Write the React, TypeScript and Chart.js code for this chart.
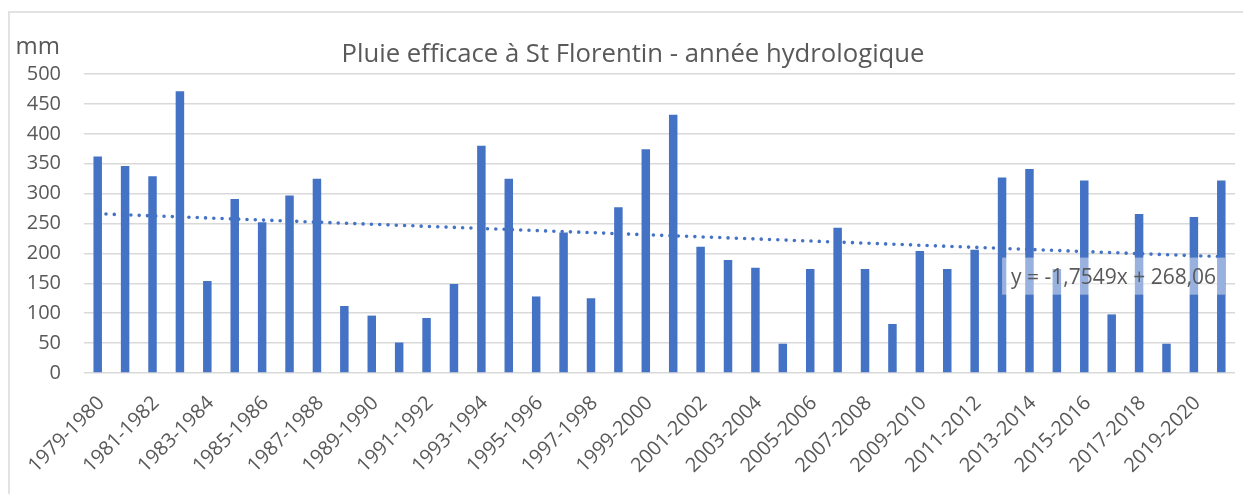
import React, { useEffect, useRef } from "react";
import { Chart, registerables } from "chart.js";

Chart.register(...registerables);

const categories: string[] = [
  "1979-1980", "1980-1981", "1981-1982", "1982-1983", "1983-1984", "1984-1985",
  "1985-1986", "1986-1987", "1987-1988", "1988-1989", "1989-1990", "1990-1991",
  "1991-1992", "1992-1993", "1993-1994", "1994-1995", "1995-1996", "1996-1997",
  "1997-1998", "1998-1999", "1999-2000", "2000-2001", "2001-2002", "2002-2003",
  "2003-2004", "2004-2005", "2005-2006", "2006-2007", "2007-2008", "2008-2009",
  "2009-2010", "2010-2011", "2011-2012", "2012-2013", "2013-2014", "2014-2015",
  "2015-2016", "2016-2017", "2017-2018", "2018-2019", "2019-2020", "2020-2021",
];

const pluieEfficace: number[] = [
  362, 346, 329, 471, 154, 291, 252, 297, 325, 112, 96, 51,
  92, 149, 380, 325, 128, 235, 125, 277, 374, 432, 211, 189,
  176, 49, 174, 243, 174, 82, 204, 174, 206, 327, 341, 174,
  322, 98, 266, 49, 261, 322,
];

const trendSlope = -1.7549;
const trendIntercept = 268.06;
const trendLabel = "y = -1,7549x + 268,06";
const yTicks: number[] = [0, 50, 100, 150, 200, 250, 300, 350, 400, 450, 500];
const title = "Pluie efficace à St Florentin - année hydrologique";
const yUnit = "mm";

const FONT = "'Open Sans', 'Noto Sans', sans-serif";
const TEXT = "#595959";
const BLUE = "#4472C4";

const trendValues = categories.map((_, i) => trendSlope * (i + 1) + trendIntercept);

export default function App() {
  const ref = useRef<HTMLCanvasElement | null>(null);

  useEffect(() => {
    if (!ref.current) return;

    const overlay = {
      id: "overlay",
      afterDraw(chart: any) {
        const ctx = chart.ctx;
        const xs = chart.scales.x;
        const ys = chart.scales.y;
        ctx.save();
        // title
        ctx.fillStyle = TEXT;
        ctx.font = `25.7px ${FONT}`;
        ctx.textAlign = "center";
        ctx.textBaseline = "alphabetic";
        ctx.fillText(title, chart.width / 2 + 11.5, 62);
        // unit
        ctx.font = `24px ${FONT}`;
        ctx.textAlign = "right";
        ctx.fillText(yUnit, 60, 54);
        // x category labels (every other), rotated 45°
        ctx.font = `20px ${FONT}`;
        ctx.textAlign = "right";
        ctx.textBaseline = "middle";
        const labelY = chart.chartArea.bottom + 27;
        categories.forEach((c, i) => {
          if (i % 2 !== 0) return;
          const x = xs.getPixelForValue(i) + 3.5;
          ctx.save();
          ctx.translate(x, labelY);
          ctx.rotate(-Math.PI / 4);
          ctx.fillText(c, 0, 0);
          ctx.restore();
        });
        // trend equation box
        ctx.textBaseline = "alphabetic";
        ctx.font = `21px ${FONT}`;
        const w = ctx.measureText(trendLabel).width;
        const left = xs.getPixelForValue(33);
        const top = ys.getPixelForValue(193);
        const bottom = ys.getPixelForValue(131);
        ctx.fillStyle = "rgba(255,255,255,0.45)";
        ctx.fillRect(left, top, w + 18, bottom - top);
        ctx.fillStyle = TEXT;
        ctx.textAlign = "left";
        ctx.fillText(trendLabel, left + 9, ys.getPixelForValue(150) + 1);
        ctx.restore();
      },
    };

    const chart = new Chart(ref.current, {
      type: "bar",
      data: {
        labels: categories,
        datasets: [
          {
            type: "line",
            label: "Tendance",
            data: trendValues,
            borderColor: BLUE,
            borderWidth: 3.6,
            borderDash: [0, 8.3],
            borderCapStyle: "round",
            pointRadius: 0,
            fill: false,
            order: 0,
          } as any,
          {
            type: "bar",
            label: "Pluie efficace",
            data: pluieEfficace,
            backgroundColor: BLUE,
            barPercentage: 0.31,
            categoryPercentage: 1,
            order: 1,
          },
        ],
      },
      options: {
        responsive: false,
        animation: false,
        layout: { padding: { left: 0, right: 8, top: 74, bottom: 0 } },
        plugins: {
          legend: { display: false },
          title: { display: false },
          tooltip: { enabled: false },
        },
        scales: {
          x: {
            grid: { display: false },
            border: { display: false },
            ticks: { display: false },
            afterFit: (s: any) => {
              s.height = 494 - 373;
            },
          },
          y: {
            min: 0,
            max: 500,
            afterBuildTicks: (s: any) => {
              s.ticks = yTicks.map((v) => ({ value: v }));
            },
            grid: { color: "#d9d9d9", lineWidth: 1.5, drawTicks: false },
            border: { display: false },
            ticks: {
              padding: 23,
              color: TEXT,
              font: { family: FONT, size: 20 },
            },
            afterFit: (s: any) => {
              s.width = 84;
            },
          },
        },
      },
      plugins: [overlay],
    });

    return () => chart.destroy();
  }, []);

  return (
    <div
      style={{
        position: "fixed",
        left: 0,
        top: 0,
        width: 1243,
        height: 494,
        overflow: "hidden",
        background: "#fff",
      }}
    >
      <div
        style={{
          position: "absolute",
          left: 8,
          top: 11,
          width: 1400,
          height: 700,
          border: "2px solid #e2e2e2",
          boxSizing: "border-box",
        }}
      />
      <canvas
        ref={ref}
        width={1243}
        height={494}
        style={{ position: "absolute", left: 0, top: 0, width: 1243, height: 494 }}
      />
    </div>
  );
}
